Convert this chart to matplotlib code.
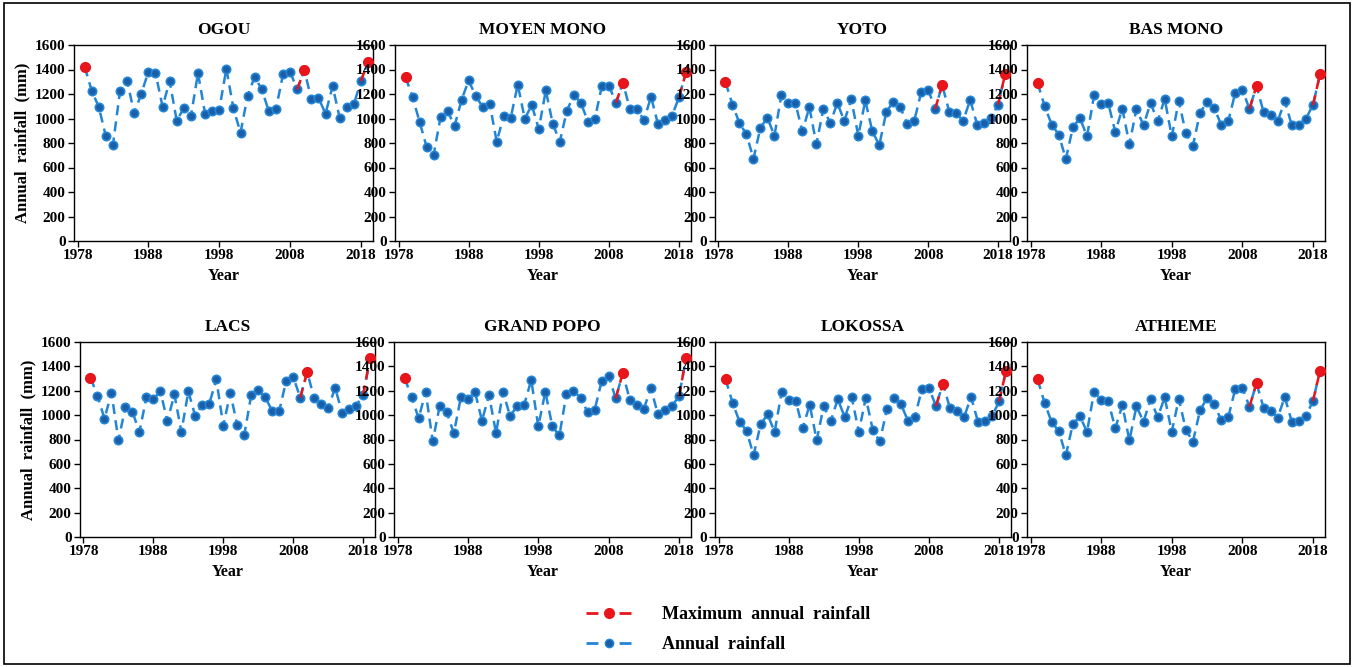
import numpy as np
import matplotlib.pyplot as plt
from matplotlib.lines import Line2D
from matplotlib.patches import Rectangle

plt.rcParams['font.family'] = ['Liberation Serif', 'DejaVu Serif']
plt.rcParams['font.weight'] = 'bold'

years = list(range(1979, 2020))
max_years = [1979, 2010, 2019]

stations = ['OGOU', 'MOYEN MONO', 'YOTO', 'BAS MONO',
            'LACS', 'GRAND POPO', 'LOKOSSA', 'ATHIEME']

ogou = [1423, 1227, 1094, 854, 786, 1227, 1306, 1042, 1203, 1382,
        1371, 1097, 1306, 982, 1086, 1018, 1371, 1039, 1061, 1072,
        1407, 1083, 884, 1184, 1341, 1238, 1058, 1075, 1360, 1380,
        1238, 1396, 1159, 1170, 1039, 1263, 1007, 1097, 1116, 1306, 1461]
moyen_mono = [1338, 1175, 974, 770, 702, 1012, 1058, 941, 1153, 1311,
              1183, 1096, 1121, 811, 1020, 1006, 1276, 998, 1110, 914,
              1229, 955, 811, 1064, 1191, 1129, 974, 998, 1268, 1268,
              1129, 1292, 1074, 1074, 987, 1178, 952, 987, 1023, 1175, 1379]
yoto = [1296, 1114, 962, 872, 671, 926, 1005, 859, 1193, 1125,
        1125, 894, 1092, 791, 1079, 962, 1128, 978, 1157, 859,
        1147, 897, 782, 1051, 1138, 1092, 956, 981, 1214, 1234,
        1079, 1274, 1057, 1041, 981, 1152, 951, 965, 1005, 1114, 1361]
bas_mono = [1291, 1100, 950, 868, 669, 928, 1004, 854, 1190, 1119,
            1127, 890, 1081, 789, 1078, 944, 1127, 977, 1160, 854,
            1141, 879, 778, 1048, 1133, 1086, 950, 977, 1212, 1236,
            1078, 1264, 1053, 1029, 977, 1143, 944, 950, 999, 1111, 1362]
lacs = [1307, 1160, 971, 1182, 793, 1069, 1026, 862, 1146, 1135,
        1195, 949, 1171, 862, 1195, 990, 1086, 1094, 1294, 913,
        1182, 916, 837, 1168, 1209, 1146, 1034, 1034, 1283, 1316,
        1143, 1354, 1138, 1089, 1058, 1225, 1015, 1053, 1078, 1162, 1471]
grand_popo = [1304, 1151, 973, 1192, 786, 1077, 1022, 852, 1145, 1129,
              1192, 954, 1165, 852, 1192, 989, 1077, 1085, 1288, 907,
              1192, 907, 833, 1173, 1200, 1143, 1025, 1041, 1277, 1323,
              1137, 1345, 1126, 1085, 1052, 1222, 1006, 1041, 1077, 1154, 1469]
lokossa = [1296, 1102, 946, 872, 670, 924, 1006, 862, 1190, 1121,
           1119, 892, 1086, 793, 1075, 949, 1132, 982, 1146, 862,
           1143, 878, 785, 1047, 1138, 1091, 955, 985, 1214, 1223,
           1075, 1258, 1056, 1037, 982, 1149, 944, 952, 990, 1113, 1365]
athieme = [1293, 1099, 941, 870, 670, 930, 990, 862, 1192, 1124,
           1116, 892, 1080, 793, 1072, 946, 1132, 982, 1146, 862,
           1135, 878, 782, 1039, 1140, 1094, 957, 982, 1217, 1225,
           1069, 1261, 1061, 1037, 979, 1149, 946, 955, 993, 1116, 1365]

series = [ogou, moyen_mono, yoto, bas_mono, lacs, grand_popo, lokossa, athieme]

W, H = 1354, 667
fig = plt.figure(figsize=(W / 100, H / 100), dpi=100)

# axes boxes in pixels: (left, right, top, bottom)
boxes = [(74, 373, 45, 241), (395, 691, 45, 241), (715, 1010, 45, 241), (1027, 1325, 45, 241),
         (80, 375, 342, 537), (394, 691, 342, 537), (715, 1011, 342, 537), (1027, 1325, 342, 537)]

blue_line = '#2385D6'
blue_face = '#1A5EA8'
red = '#E8161B'

for i, (name, vals) in enumerate(zip(stations, series)):
    l, r, t, b = boxes[i]
    ax = fig.add_axes([l / W, 1 - b / H, (r - l) / W, (b - t) / H])
    ax.plot(years, vals, linestyle=(0, (4, 2.5)), color=blue_line, linewidth=1.8,
            marker='o', markersize=6, markerfacecolor=blue_face,
            markeredgecolor=blue_line, markeredgewidth=1.2, zorder=3, clip_on=False)
    # red segment leading into each maximum year
    for my in max_years:
        k = years.index(my)
        if k > 0:
            ax.plot(years[k - 1:k + 1], vals[k - 1:k + 1], linestyle=(0, (4, 2.5)),
                    color=red, linewidth=1.8, zorder=4, clip_on=False)
        ax.plot(my, vals[k], marker='o', markersize=7, color=red,
                markeredgecolor=red, zorder=5, clip_on=False)
    ax.set_xlim(1977.5, 2019.7)
    ax.set_ylim(0, 1600)
    ax.set_xticks([1978, 1988, 1998, 2008, 2018])
    ax.set_yticks(range(0, 1601, 200))
    ax.tick_params(direction='out', length=4, width=1, labelsize=11, pad=2)
    for lab in ax.get_xticklabels() + ax.get_yticklabels():
        lab.set_fontweight('bold')
    for sp in ax.spines.values():
        sp.set_linewidth(1)
    ax.set_title(name, fontsize=12.5, fontweight='bold', pad=8)
    ax.set_xlabel('Year', fontsize=11.5, fontweight='bold', labelpad=4)
    if i % 4 == 0:
        ax.set_ylabel('Annual  rainfall  (mm)', fontsize=12, fontweight='bold', labelpad=3)

handles = [
    Line2D([0], [0], color=red, linestyle=(0, (4.3, 7.6)), linewidth=2, marker='o',
           markersize=7, markerfacecolor=red, markeredgecolor=red),
    Line2D([0], [0], color=blue_line, linestyle=(0, (4.3, 7.6)), linewidth=2, marker='o',
           markersize=6, markerfacecolor=blue_face, markeredgecolor=blue_line),
]
fig.legend(handles, ['Maximum  annual  rainfall', 'Annual  rainfall'],
           loc='upper left', bbox_to_anchor=(570 / W, 1 - 590 / H), frameon=False,
           handlelength=2.5, handletextpad=1.7, labelspacing=0.7,
           prop={'size': 13, 'weight': 'bold'})

fig.patches.append(Rectangle((4 / W, 3 / H), 1 - 8 / W, 1 - 6 / H, transform=fig.transFigure,
                             fill=False, edgecolor='black', linewidth=1.2))

fig.savefig('out.png', dpi=100)
